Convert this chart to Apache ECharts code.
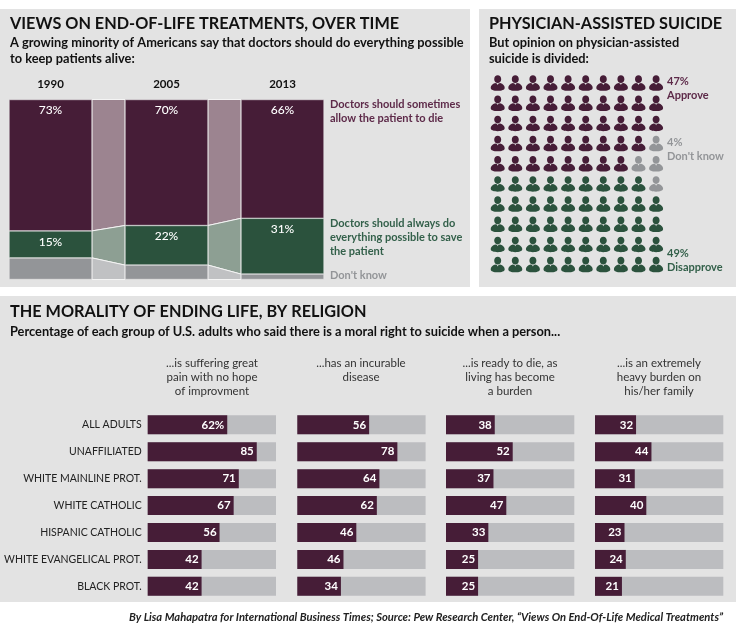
<!DOCTYPE html>
<html><head><meta charset="utf-8">
<style>html,body{margin:0;padding:0;background:#fff}#c{width:736px;height:631px}</style>
<script src="https://cdn.jsdelivr.net/npm/echarts@6/dist/echarts.min.js"></script>
</head><body><div id="c"></div>
<script>
// ---- data ----
const years = ['1990','2005','2013'];
const sometimes = [73,70,66];
const always = [15,22,31];
const dontKnow = [12,8,3];

const approveRow = [10,10,10,9,8,0,0,0,0,0];
const unsureRow  = [0,0,0,1,2,1,0,0,0,0];
const rowNumbers = ['1','2','3','4','5','6','7','8','9','10'];
const colNumbers = ['1','2','3','4','5','6','7','8','9','10'];

const groups = ['ALL ADULTS','UNAFFILIATED','WHITE MAINLINE PROT.','WHITE CATHOLIC','HISPANIC CATHOLIC','WHITE EVANGELICAL PROT.','BLACK PROT.'];
const painBars = [62,85,71,67,56,42,42];
const painLabels = ['62%','85','71','67','56','42','42'];
const incurableBars = [56,78,64,62,46,36,34];
const incurableLabels = ['56','78','64','62','46','46','34'];
const readyBars = [38,52,37,47,33,25,25];
const readyLabels = ['38','52','37','47','33','25','25'];
const burdenBars = [32,44,31,40,23,24,21];
const burdenLabels = ['32','44','31','40','23','24','21'];
const fullTrack = [100,100,100,100,100,100,100];

// ---- style ----
const FONT = 'Lato, "Noto Sans", sans-serif';
const PURPLE='#461d37', GREEN='#2b523d', GRAY='#939598', TRACK='#bcbdc0', PANEL='#e3e3e3';
const PURPLE_L='#9c8490', GREEN_L='#8d9f93', GRAY_L='#c0c1c3';
const TITLE=16.25, SUB=12.8, KEY=11;

const PERSON='path://M50 0C64 0 75 11 75 25C75 39 64 50 50 50C36 50 25 39 25 25C25 11 36 0 50 0ZM32 50L44 52L50 62L56 52L68 50C88 56 100 68 100 80C100 94 78 100 50 100C22 100 0 94 0 80C0 68 12 56 32 50Z';

function txt(x,y,text,font,fill,align,weight,style){
  return {type:'text',x,y,silent:true,style:{text,fill,font:(style||'')+' '+(weight||'bold')+' '+font+'px '+FONT,align:align||'left',verticalAlign:'middle'}};
}
const graphics = [
 {type:'rect',z:-10,shape:{x:0,y:9,width:470,height:278},style:{fill:PANEL},silent:true},
 {type:'rect',z:-10,shape:{x:479,y:9,width:257,height:278},style:{fill:PANEL},silent:true},
 {type:'rect',z:-10,shape:{x:0,y:296,width:736,height:306},style:{fill:PANEL},silent:true},
 txt(10,24,'VIEWS ON END-OF-LIFE TREATMENTS, OVER TIME',TITLE,'#111'),
 txt(10,43,'A growing minority of Americans say that doctors should do everything possible',SUB,'#111'),
 txt(10,59,'to keep patients alive:',SUB,'#111'),
 txt(330,104,'Doctors should sometimes',KEY,'#5d2a49'),
 txt(330,118,'allow the patient to die',KEY,'#5d2a49'),
 txt(330,223,'Doctors should always do',KEY,'#33604a'),
 txt(330,237,'everything possible to save',KEY,'#33604a'),
 txt(330,251,'the patient',KEY,'#33604a'),
 txt(330,275,"Don't know",KEY,'#939598'),
 txt(489,24,'PHYSICIAN-ASSISTED SUICIDE',TITLE,'#111'),
 txt(489,43,'But opinion on physician-assisted',SUB,'#111'),
 txt(489,59,'suicide is divided:',SUB,'#111'),
 txt(667,81,'47%',KEY,'#5d2a49'),
 txt(667,95,'Approve',KEY,'#5d2a49'),
 txt(667,142,'4%',KEY,'#939598'),
 txt(667,156,"Don't know",KEY,'#939598'),
 txt(667,253,'49%',KEY,'#33604a'),
 txt(667,267,'Disapprove',KEY,'#33604a'),
 txt(10,312,'THE MORALITY OF ENDING LIFE, BY RELIGION',TITLE,'#111'),
 txt(10,332,'Percentage of each group of U.S. adults who said there is a moral right to suicide when a person...',SUB,'#111'),
 txt(723,617,'By Lisa Mahapatra for International Business Times; Source: Pew Research Center, \u201cViews On End-Of-Life Medical Treatments\u201d',11.2,'#222','right','bold','italic')
];
const heads = [
 [212,['...is suffering great','pain with no hope','of improvment']],
 [361,['...has an incurable','disease']],
 [510,['...is ready to die, as','living has become','a burden']],
 [659,['...is an extremely','heavy burden on','his/her family']]
];
heads.forEach(h=>h[1].forEach((l,i)=>graphics.push(txt(h[0],363+i*14,l,11.5,'#333','center','normal'))));

// ---- grids ----
const grid=[], xAxis=[], yAxis=[], series=[];

// 0: stacked bars with connectors
grid.push({left:-7.5,top:99.5,width:348,height:180,outerBoundsMode:'none',containLabel:false});
xAxis.push({type:'category',gridIndex:0,data:years,position:'top',axisLine:{show:false},axisTick:{show:false},
  axisLabel:{color:'#111',fontFamily:FONT,fontWeight:'bold',fontSize:11.5,margin:9}});
yAxis.push({type:'value',gridIndex:0,min:0,max:100,inverse:true,show:false});
const stackDefs=[[sometimes,PURPLE],[always,GREEN],[dontKnow,GRAY]];
stackDefs.forEach((d,k)=>{
  series.push({type:'bar',xAxisIndex:0,yAxisIndex:0,stack:'s',data:d[0],barWidth:83,z:3,
    itemStyle:{color:d[1],borderColor:'#eeeeee',borderWidth:0.5},
    label:{show:k<2,position:'insideTop',distance:5,color:'#fff',fontFamily:FONT,fontSize:12,fontWeight:500,formatter:p=>p.value+'%'}});
});
const bandRows = years.map((y,i)=>[i,sometimes[i],always[i],dontKnow[i]]);
series.push({type:'custom',xAxisIndex:0,yAxisIndex:0,z:2,silent:true,data:bandRows,encode:{x:0,y:1},
  renderItem(params,api){
    const i=api.value(0);
    if(i>=years.length-1) return {type:'group',children:[]};
    const half=83/2;
    const a=[0,sometimes[i],sometimes[i]+always[i],100];
    const b=[0,sometimes[i+1],sometimes[i+1]+always[i+1],100];
    const colors=[PURPLE_L,GREEN_L,GRAY_L];
    const children=[];
    for(let k=0;k<3;k++){
      const p1=api.coord([i,a[k]]), p2=api.coord([i+1,b[k]]), p3=api.coord([i+1,b[k+1]]), p4=api.coord([i,a[k+1]]);
      children.push({type:'polygon',shape:{points:[[p1[0]+half,p1[1]],[p2[0]-half,p2[1]],[p3[0]-half,p3[1]],[p4[0]+half,p4[1]]]},
        style:{fill:colors[k],stroke:'#f4f4f4',lineWidth:1}});
    }
    return {type:'group',children};
  }});

// 1: waffle
grid.push({left:488.9,top:73,width:176,height:201.7,outerBoundsMode:'none'});
xAxis.push({type:'category',gridIndex:1,data:colNumbers,show:false});
yAxis.push({type:'category',gridIndex:1,data:rowNumbers,inverse:true,show:false});
const w={a:[],u:[],d:[]};
rowNumbers.forEach((r,ri)=>colNumbers.forEach((c,ci)=>{
  const key = ci<approveRow[ri] ? 'a' : (ci>=colNumbers.length-unsureRow[ri] ? 'u' : 'd');
  w[key].push([c,r]);
}));
[['a',PURPLE],['u',GRAY],['d',GREEN]].forEach(s=>series.push({type:'scatter',xAxisIndex:1,yAxisIndex:1,data:w[s[0]],
  symbol:PERSON,symbolKeepAspect:false,symbolSize:[14,15.5],itemStyle:{color:s[1],opacity:1},silent:true}));

// 2-5: religion
const panels=[[painBars,painLabels,147.7],[incurableBars,incurableLabels,297.3],[readyBars,readyLabels,446],[burdenBars,burdenLabels,595]];
panels.forEach((p,i)=>{
  const g=grid.length;
  grid.push({left:p[2],top:411.4,width:128.3,height:188.4,outerBoundsMode:'none'});
  xAxis.push({type:'value',gridIndex:g,min:0,max:100,show:false});
  yAxis.push({type:'category',gridIndex:g,data:groups,inverse:true,axisLine:{show:false},axisTick:{show:false},
    axisLabel:{show:i===0,color:'#222',fontFamily:FONT,fontSize:10.5,margin:6}});
  series.push({type:'bar',xAxisIndex:g,yAxisIndex:g,data:fullTrack,barWidth:19,barGap:'-100%',itemStyle:{color:TRACK},silent:true,z:2});
  series.push({type:'bar',xAxisIndex:g,yAxisIndex:g,data:p[0],barWidth:19,barGap:'-100%',itemStyle:{color:PURPLE},z:3,
    label:{show:true,position:'insideRight',distance:3,color:'#fff',fontFamily:FONT,fontWeight:'bold',fontSize:11.5,
      formatter:q=>p[1][q.dataIndex]}});
});

const chart=echarts.init(document.getElementById('c'),null,{renderer:'canvas'});
chart.setOption({animation:false,backgroundColor:'#fff',grid,xAxis,yAxis,series,graphic:graphics,tooltip:{show:false}});
</script></body></html>
